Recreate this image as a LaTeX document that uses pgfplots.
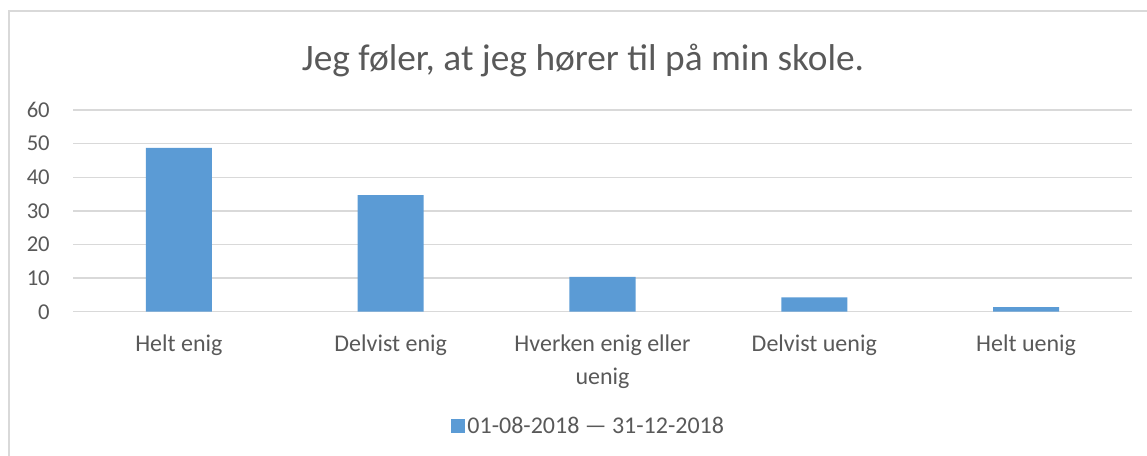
\documentclass[border=0pt]{standalone}
\usepackage{pgfplots}
\pgfplotsset{compat=1.18}
\usepackage{fontspec}
\setmainfont{Carlito}
\definecolor{barblue}{HTML}{5B9BD5}
\definecolor{txtgray}{HTML}{595959}
\definecolor{gridgray}{HTML}{D9D9D9}
\begin{document}
\begin{tikzpicture}
\useasboundingbox (0,0) rectangle (860.25pt,342pt);
\draw[gridgray, line width=1.5pt] (6.75pt,-2pt) -- (6.75pt,333.75pt) -- (865pt,333.75pt);
\node[txtgray, font=\fontsize{28}{33}\selectfont] at (437.25pt,297pt) {Jeg føler, at jeg hører til på min skole.};
\begin{axis}[
  at={(54.75pt,108.2pt)}, anchor=south west,
  scale only axis, width=794.25pt, height=151.3pt,
  ybar, bar width=49.5pt,
  xmin=-0.5, xmax=4.5, ymin=0, ymax=60,
  xtick={0,1,2,3,4},
  xticklabels={Helt enig, Delvist enig, {Hverken enig eller\\uenig}, Delvist uenig, Helt uenig},
  ytick={0,10,20,30,40,50,60},
  axis line style={draw=none},
  tick style={draw=none},
  ymajorgrids, grid style={gridgray, line width=1pt},
  /pgf/number format/assume math mode=true,
  ticklabel style={txtgray, inner sep=0pt},
  yticklabel style={anchor=east, xshift=-17.25pt, font=\fontsize{17}{20}\selectfont},
  xticklabel style={anchor=north, align=center, yshift=-13pt, font=\fontsize{18}{24.75}\selectfont},
  legend style={at={(0.487,-0.567)}, anchor=center, draw=none, fill=none,
    font=\fontsize{18}{21}\selectfont, text=txtgray, inner sep=0pt,
    legend cell align=left},
  legend image code/.code={\fill[barblue] (0pt,-5.25pt) rectangle (10.5pt,5.25pt);},
]
\addplot[fill=barblue, draw=none] coordinates {(0,48.7) (1,34.7) (2,10.4) (3,4.3) (4,1.4)};
\addlegendentry{01-08-2018 — 31-12-2018}
\end{axis}
\end{tikzpicture}
\end{document}
